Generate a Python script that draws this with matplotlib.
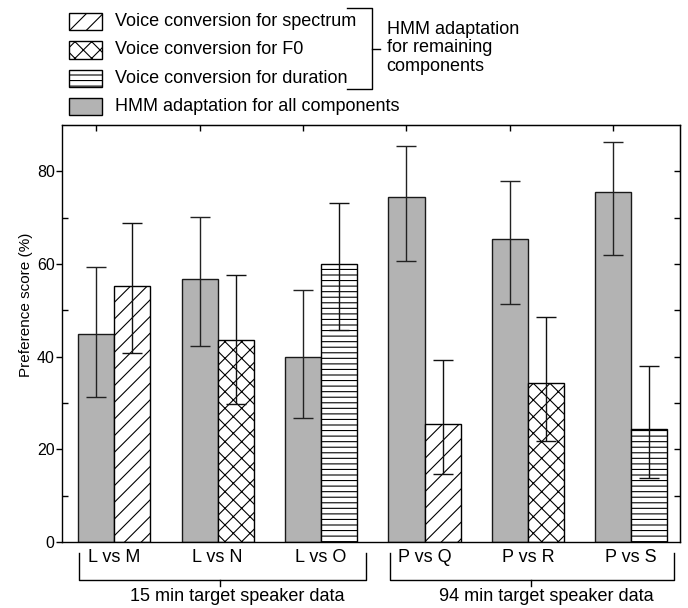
import numpy as np
import matplotlib
matplotlib.use("Agg")
import matplotlib.pyplot as plt
from matplotlib.patches import Rectangle
from matplotlib.lines import Line2D

plt.rcParams["font.family"] = ["Liberation Sans", "DejaVu Sans"]
plt.rcParams["hatch.linewidth"] = 0.8

# data
pair_labels = ["L vs M", "L vs N", "L vs O", "P vs Q", "P vs R", "P vs S"]
hmm_all = [44.8, 56.7, 40.0, 74.5, 65.5, 75.5]
hmm_all_hi = [59.3, 70.1, 54.3, 85.4, 78.0, 86.3]
hmm_all_lo = [31.2, 42.3, 26.8, 60.7, 51.3, 61.9]
vc = [55.3, 43.5, 60.1, 25.5, 34.4, 24.3]
vc_hi = [68.8, 57.6, 73.2, 39.3, 48.6, 38.0]
vc_lo = [40.7, 29.8, 45.7, 14.6, 21.9, 13.8]
vc_hatches = ["//", "xx", "---", "//", "xx", "---"]
legend_labels = ["Voice conversion for spectrum", "Voice conversion for F0",
                 "Voice conversion for duration", "HMM adaptation for all components"]
group_labels = ["15 min target speaker data", "94 min target speaker data"]

W, H = 688, 608
fig = plt.figure(figsize=(W / 100, H / 100), dpi=100)


def fx(px):
    return px / W


def fy(py):
    return 1 - py / H


ax = fig.add_axes([fx(62.3), fy(542), (680 - 62.3) / W, (542 - 125) / H])

x = np.arange(len(pair_labels))
w = 0.35
gray = "#b3b3b3"
hmm_all = np.array(hmm_all)
vc = np.array(vc)
err_g = [hmm_all - np.array(hmm_all_lo), np.array(hmm_all_hi) - hmm_all]
err_v = [vc - np.array(vc_lo), np.array(vc_hi) - vc]

ax.bar(x - w / 2, hmm_all, w, color=gray, edgecolor="#1a1a1a", linewidth=1.0)
for i in range(len(x)):
    ax.bar(x[i] + w / 2, vc[i], w, color="white", edgecolor="black",
           linewidth=1.0, hatch=vc_hatches[i])
ax.errorbar(x - w / 2, hmm_all, yerr=err_g, fmt="none", ecolor="#222222",
            elinewidth=1.0, capsize=7, capthick=1.0)
ax.errorbar(x + w / 2, vc, yerr=err_v, fmt="none", ecolor="#111111",
            elinewidth=1.0, capsize=7, capthick=1.0)

ax.set_xlim(-0.503, 5.471)
ax.set_ylim(0, 90)
ax.set_xticks(x)
ax.set_xticklabels(pair_labels, fontsize=13)
ax.tick_params(axis="x", length=0, pad=5)
ax.set_yticks([0, 20, 40, 60, 80])
ax.set_yticks([10, 30, 50, 70], minor=True)
ax.tick_params(axis="y", which="major", direction="out", length=4, width=1,
               labelsize=11.5, pad=1.5)
ax.tick_params(axis="y", which="minor", direction="in", length=4, width=1)
ax.set_ylabel("Preference score (%)", fontsize=11)
ax.yaxis.set_label_coords(-0.048, 0.568)
for s in ax.spines.values():
    s.set_linewidth(1.0)

sec_r = ax.secondary_yaxis("right")
sec_r.set_yticks(np.arange(10, 90, 10))
sec_r.tick_params(direction="in", length=4, width=1, labelright=False)
sec_t = ax.secondary_xaxis("top")
sec_t.set_xticks(x - w / 2)
sec_t.tick_params(direction="in", length=4, width=1, labeltop=False)

# legend drawn by hand
rows = [21.5, 50, 78.5, 106.5]
fills = [("white", "//"), ("white", "xx"), ("white", "---"), (gray, None)]
for row, (fc, hatch), lab in zip(rows, fills, legend_labels):
    fig.add_artist(Rectangle((fx(69), fy(row + 8.5)), 33 / W, 17 / H,
                             transform=fig.transFigure, facecolor=fc,
                             edgecolor="black", linewidth=1.0, hatch=hatch))
    fig.text(fx(115), fy(row), lab, fontsize=13, va="center", ha="left")

bk = dict(color="black", linewidth=1.0, transform=fig.transFigure)
fig.add_artist(Line2D([fx(346.7), fx(371.7), fx(371.7), fx(346.7)],
                      [fy(8), fy(8), fy(89), fy(89)], **bk))
fig.add_artist(Line2D([fx(371.7), fx(380)], [fy(49), fy(49)], **bk))
fig.text(fx(386.7), fy(48), "HMM adaptation\nfor remaining\ncomponents",
         fontsize=13, va="center", ha="left", linespacing=1.12)

# group brackets under the x axis
for (x0, x1, xm, xt), lab in zip([(79.3, 365.7, 220, 237), (389.7, 674, 530.7, 546)],
                                 group_labels):
    fig.add_artist(Line2D([fx(x0), fx(x0), fx(x1), fx(x1)],
                          [fy(553), fy(579.5), fy(579.5), fy(553)], **bk))
    fig.add_artist(Line2D([fx(xm), fx(xm)], [fy(579.5), fy(586)], **bk))
    fig.text(fx(xt), fy(596.7), lab, fontsize=13, va="center", ha="center")

plt.savefig("out.png", dpi=100)
